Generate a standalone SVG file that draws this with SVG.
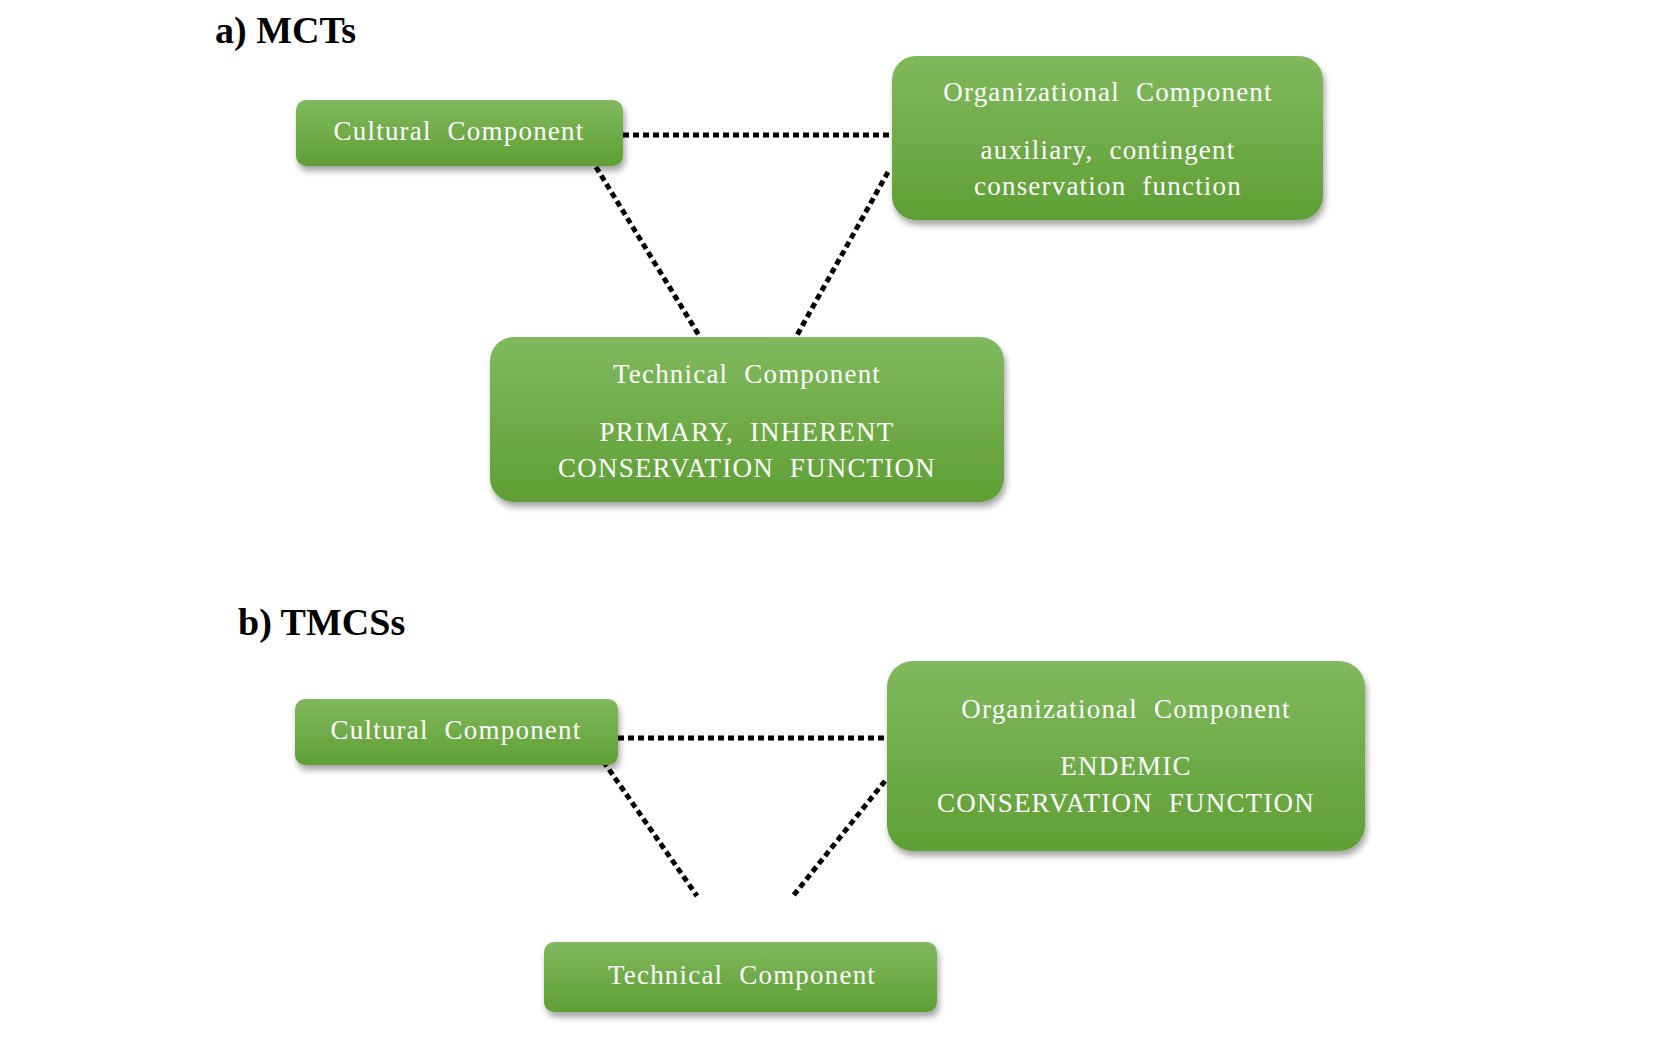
<svg xmlns="http://www.w3.org/2000/svg" width="1654" height="1045" viewBox="0 0 1654 1045">
<style>
.t{font-family:"Liberation Serif","Times New Roman",serif;fill:#fff;font-size:27px;text-anchor:middle;letter-spacing:1.2px;word-spacing:8px}
.h{font-family:"Liberation Serif","Times New Roman",serif;fill:#000;font-size:38px;font-weight:bold}
.box{fill:url(#g);filter:url(#sh)}
.c{stroke:#000;stroke-width:5;stroke-dasharray:6 4;fill:none}
</style>
<defs>
<linearGradient id="g" x1="0" y1="0" x2="0" y2="1"><stop offset="0" stop-color="#80b95e"/><stop offset="1" stop-color="#5f9f34"/></linearGradient>
<filter id="sh" x="-10%" y="-10%" width="120%" height="130%"><feDropShadow dx="2" dy="5" stdDeviation="3" flood-color="#000" flood-opacity="0.35"/></filter>
</defs>
<rect width="1654" height="1045" fill="#fff"/>
<text class="h" x="215" y="43">a) MCTs</text>
<text class="h" x="238" y="635">b) TMCSs</text>
<g id="connectors">
<line class="c" x1="623" y1="135" x2="892" y2="135"/>
<line class="c" x1="596" y1="167" x2="700" y2="337"/>
<line class="c" x1="888" y1="172" x2="796" y2="337"/>
<line class="c" x1="618" y1="738" x2="887" y2="738"/>
<line class="c" x1="592" y1="745" x2="697" y2="896"/>
<line class="c" x1="885" y1="781" x2="793" y2="896"/>
</g>
<g id="a-cultural"><rect class="box" x="296" y="100" width="327" height="66" rx="10"/><text class="t" x="459" y="140">Cultural Component</text></g>
<g id="a-organizational"><rect class="box" x="892" y="56" width="431" height="164" rx="24"/><text class="t" x="1108" y="101">Organizational Component</text><text class="t" x="1108" y="159">auxiliary, contingent</text><text class="t" x="1108" y="195">conservation function</text></g>
<g id="a-technical"><rect class="box" x="490" y="337" width="514" height="165" rx="24"/><text class="t" x="747" y="383">Technical Component</text><text class="t" x="747" y="441">PRIMARY, INHERENT</text><text class="t" x="747" y="477">CONSERVATION FUNCTION</text></g>
<g id="b-cultural"><rect class="box" x="295" y="699" width="323" height="66" rx="10"/><text class="t" x="456" y="739">Cultural Component</text></g>
<g id="b-organizational"><rect class="box" x="887" y="661" width="478" height="190" rx="26"/><text class="t" x="1126" y="718">Organizational Component</text><text class="t" x="1126" y="775">ENDEMIC</text><text class="t" x="1126" y="812">CONSERVATION FUNCTION</text></g>
<g id="b-technical"><rect class="box" x="544" y="942" width="393" height="70" rx="10"/><text class="t" x="742" y="984">Technical Component</text></g>
</svg>
